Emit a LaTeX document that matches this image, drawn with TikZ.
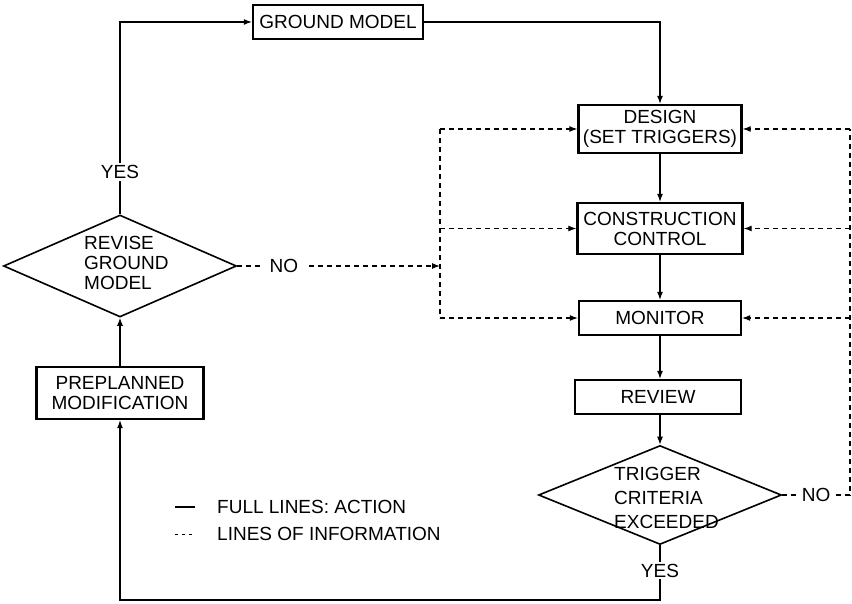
\documentclass[tikz,border=0pt]{standalone}
\usepackage{fontspec}
\setmainfont{Liberation Sans}
\usetikzlibrary{arrows.meta,shapes.geometric}

\begin{document}
\begin{tikzpicture}[x=1pt, y=-1pt,
    every node/.style={font=\fontsize{19}{20}\selectfont},
    box/.style={draw, line width=2.4pt, inner sep=0pt, align=center},
    dia/.style={draw, diamond, line width=1.6pt, inner sep=0pt},
    act/.style={line width=1.1pt},
    info/.style={line width=1.1pt, dash pattern=on 5pt off 4pt},
    tip/.style={-{Latex[length=8pt,width=6pt]}},
    lbl/.style={fill=white, inner sep=2pt}]
    \useasboundingbox (0,0) rectangle (852,604);
    \node[box, minimum width=170pt, minimum height=34pt] (gm) at (338,22) {GROUND MODEL};
    \node[box, minimum width=163pt, minimum height=48pt] (design) at (660,129) {DESIGN\\(SET TRIGGERS)};
    \node[box, minimum width=165pt, minimum height=51pt] (cc) at (660,228.5) {CONSTRUCTION\\CONTROL};
    \node[box, minimum width=162pt, minimum height=34pt] (mon) at (660,318) {MONITOR};
    \node[box, minimum width=166pt, minimum height=34pt] (rev) at (658,397) {REVIEW};
    \node[dia, minimum width=243pt, minimum height=99pt] (trig) at (660,495) {};
    \node[anchor=west, align=left, inner sep=0pt, font=\fontsize{19}{24}\selectfont]
        (trigtext) at (614,498) {TRIGGER\\CRITERIA\\EXCEEDED};
    \node[dia, minimum width=233pt, minimum height=102pt] (rgm) at (120,266) {};
    \node[anchor=west, align=left, inner sep=0pt] (rgmtext) at (84,263) {REVISE\\GROUND\\MODEL};
    \node[box, minimum width=167pt, minimum height=52pt] (pm) at (120,393) {PREPLANNED\\MODIFICATION};

    \draw[act, tip] (rgm.north) -- node[lbl, pos=0.22] (yesup) {YES}
        (rgm.north |- gm.west) -- (gm.west);
    \draw[act, tip] (gm.east) -| (design.north);
    \draw[act, tip] (design.south) -- (cc.north);
    \draw[act, tip] (cc.south) -- (mon.north);
    \draw[act, tip] (mon.south) -- (mon.south |- rev.north);
    \draw[act, tip] (rev.south -| trig.north) -- (trig.north);
    \coordinate (bot) at (660,600);
    \draw[act, tip] (trig.south) -- node[lbl, pos=0.46] (yesdown) {YES}
        (trig.south |- bot) -| (pm.south);
    \draw[act, tip] (pm.north) -- (rgm.south);

    \coordinate (lx) at (440,0);
    \draw[info] (design.west -| lx) -- (mon.west -| lx);
    \draw[info, tip] (design.west -| lx) -- (design.west);
    \draw[info, tip] (cc.west -| lx) -- (cc.west);
    \draw[info, tip] (mon.west -| lx) -- (mon.west);
    \draw[info, tip] (rgm.east) -- node[lbl, pos=0.23, inner xsep=9pt] (noleft) {NO}
        (rgm.east -| lx);

    \coordinate (rx) at (850,0);
    \draw[info] (trig.east) -- node[lbl, inner xsep=4pt] (noright) {NO}
        (trig.east -| rx) -- (design.east -| rx);
    \draw[info, tip] (design.east -| rx) -- (design.east);
    \draw[info, tip] (cc.east -| rx) -- (cc.east);
    \draw[info, tip] (mon.east -| rx) -- (mon.east);

    \draw[act] (175,507) -- (195,507);
    \node[anchor=west, inner sep=0pt] (legact) at (217,507) {FULL LINES: ACTION};
    \draw[line width=1pt, dash pattern=on 3pt off 4pt] (175,534) -- (195,534);
    \node[anchor=west, inner sep=0pt] (leginfo) at (217,534) {LINES OF INFORMATION};
\end{tikzpicture}
\end{document}
